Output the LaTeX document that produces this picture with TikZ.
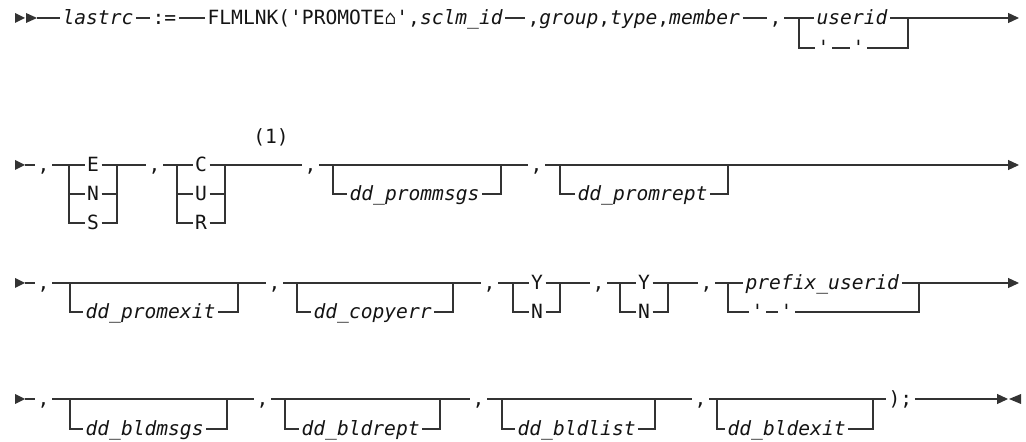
\documentclass[tikz,border=0pt]{standalone}
\usepackage{fontspec}
\setmonofont{DejaVu Sans Mono}
\usetikzlibrary{arrows.meta}
\definecolor{RailInk}{gray}{0.2}
\definecolor{RailText}{gray}{0.08}
\tikzset{
    rail/diagram/.style={
        x=0.5pt, y=-0.5pt,
        font=\ttfamily\fontsize{9.8}{11}\selectfont,
        draw=RailInk,
        text=RailText,
        line width=0.6pt,
        line cap=butt,
        line join=miter
    },
    rail/term/.style={
        anchor=west, inner xsep=1pt, inner ysep=0pt,
        text height=7pt, text depth=0pt
    },
    rail/choice/.style={
        anchor=center, inner xsep=1pt, inner ysep=0pt,
        text height=7pt, text depth=0pt
    },
    rail/line/.style={draw=RailInk, line width=0.6pt},
    rail/next/.style={
        draw=RailInk, line width=0.6pt,
        -{Triangle[length=5.5pt, width=5pt]}
    },
    rail/head/.style={fill=RailInk, draw=none}
}
\begin{document}
\begin{tikzpicture}[rail/diagram]
    \useasboundingbox (0,0) rectangle (1026,442);
    % row 1
    \fill[rail/head] (15,13) -- (25,18) -- (15,23) -- cycle;
    \fill[rail/head] (26,13) -- (37,18) -- (26,23) -- cycle;
    \coordinate (r1s) at (37,18);
    \node[rail/term] (lastrc) at (60,18) {\textit{lastrc}};
    \node[rail/term] (assign) at (150,18) {:=};
    \node[rail/term] (flmlnk) at (205,18) {FLMLNK('PROMOTE⌂',\textit{sclm\_id}};
    \node[rail/term] (args) at (525,18) {,\textit{group},\textit{type},\textit{member}};
    \node[rail/term] (c1a) at (767,18) {,};
    \coordinate (r1l) at (799,18);
    \coordinate (r1r) at (908,18);
    \node[rail/term] (userid) at (814,18) {\textit{userid}};
    \node[rail/term] (q1a) at (815,48) {'};
    \node[rail/term] (q1b) at (850,48) {'};
    \coordinate (r1e) at (1019,18);
    \draw[rail/next] (r1s) -- (lastrc) -- (assign) -- (flmlnk) -- (args) -- (c1a)
        -- (userid) -- (r1e);
    \draw[rail/line] (r1l) |- (q1a);
    \draw[rail/line] (q1a) -- (q1b);
    \draw[rail/line] (q1b) -| (r1r);
    % row 2
    \foreach \y in {165,283,399} {
        \fill[rail/head] (15,\y-5) -- (25,\y) -- (15,\y+5) -- cycle;
    }
    \coordinate (r2s) at (25,165);
    \node[rail/term] (c2a) at (35,165) {,};
    \coordinate (r2la) at (69,165);
    \coordinate (r2ra) at (117,165);
    \node[rail/choice] (E) at (93,165) {E};
    \node[rail/choice] (N) at (93,194) {N};
    \node[rail/choice] (S) at (93,223) {S};
    \node[rail/term] (c2b) at (146,165) {,};
    \coordinate (r2lb) at (177,165);
    \coordinate (r2rb) at (225,165);
    \node[rail/choice] (C) at (201,165) {C};
    \node[rail/choice] (U) at (201,194) {U};
    \node[rail/choice] (R) at (201,223) {R};
    \node (note) at (271,137) {(1)};
    \node[rail/term] (c2c) at (302,165) {,};
    \coordinate (r2lc) at (333,165);
    \coordinate (r2rc) at (501,165);
    \node[rail/term] (prommsgs) at (347,194) {\textit{dd\_prommsgs}};
    \node[rail/term] (c2d) at (528,165) {,};
    \coordinate (r2ld) at (560,165);
    \coordinate (r2rd) at (728,165);
    \node[rail/term] (promrept) at (575,194) {\textit{dd\_promrept}};
    \coordinate (r2e) at (1019,165);
    \draw[rail/next] (r2s) -- (c2a) -- (E) -- (c2b) -- (C) -- (c2c) -- (c2d) -- (r2e);
    \draw[rail/line] (r2la) |- (S) -| (r2ra);
    \draw[rail/line] (r2la |- N) -- (N) -- (r2ra |- N);
    \draw[rail/line] (r2lb) |- (R) -| (r2rb);
    \draw[rail/line] (r2lb |- U) -- (U) -- (r2rb |- U);
    \draw[rail/line] (r2lc) |- (prommsgs) -| (r2rc);
    \draw[rail/line] (r2ld) |- (promrept) -| (r2rd);
    % row 3
    \coordinate (r3s) at (25,283);
    \node[rail/term] (c3a) at (35,283) {,};
    \coordinate (r3la) at (70,283);
    \coordinate (r3ra) at (238,283);
    \node[rail/term] (promexit) at (83,312) {\textit{dd\_promexit}};
    \node[rail/term] (c3b) at (266,283) {,};
    \coordinate (r3lb) at (297,283);
    \coordinate (r3rb) at (453,283);
    \node[rail/term] (copyerr) at (311,312) {\textit{dd\_copyerr}};
    \node[rail/term] (c3c) at (481,283) {,};
    \coordinate (r3lc) at (513,283);
    \coordinate (r3rc) at (560,283);
    \node[rail/choice] (Ya) at (537,283) {Y};
    \node[rail/choice] (Na) at (537,312) {N};
    \node[rail/term] (c3d) at (590,283) {,};
    \coordinate (r3ld) at (620,283);
    \coordinate (r3rd) at (668,283);
    \node[rail/choice] (Yb) at (644,283) {Y};
    \node[rail/choice] (Nb) at (644,312) {N};
    \node[rail/term] (c3e) at (698,283) {,};
    \coordinate (r3le) at (728,283);
    \coordinate (r3re) at (919,283);
    \node[rail/term] (prefix) at (743,283) {\textit{prefix\_userid}};
    \node[rail/term] (q3a) at (749,312) {'};
    \node[rail/term] (q3b) at (778,312) {'};
    \coordinate (r3e) at (1019,283);
    \draw[rail/next] (r3s) -- (c3a) -- (c3b) -- (c3c) -- (Ya) -- (c3d) -- (Yb) -- (c3e)
        -- (prefix) -- (r3e);
    \draw[rail/line] (r3la) |- (promexit) -| (r3ra);
    \draw[rail/line] (r3lb) |- (copyerr) -| (r3rb);
    \draw[rail/line] (r3lc) |- (Na) -| (r3rc);
    \draw[rail/line] (r3ld) |- (Nb) -| (r3rd);
    \draw[rail/line] (r3le) |- (q3a);
    \draw[rail/line] (q3a) -- (q3b);
    \draw[rail/line] (q3b) -| (r3re);
    % row 4
    \coordinate (r4s) at (25,399);
    \node[rail/term] (c4a) at (35,399) {,};
    \coordinate (r4la) at (70,399);
    \coordinate (r4ra) at (227,399);
    \node[rail/term] (bldmsgs) at (83,429) {\textit{dd\_bldmsgs}};
    \node[rail/term] (c4b) at (254,399) {,};
    \coordinate (r4lb) at (285,399);
    \coordinate (r4rb) at (440,399);
    \node[rail/term] (bldrept) at (299,429) {\textit{dd\_bldrept}};
    \node[rail/term] (c4c) at (470,399) {,};
    \coordinate (r4lc) at (502,399);
    \coordinate (r4rc) at (655,399);
    \node[rail/term] (bldlist) at (515,429) {\textit{dd\_bldlist}};
    \node[rail/term] (c4d) at (692,399) {,};
    \coordinate (r4ld) at (717,399);
    \coordinate (r4rd) at (873,399);
    \node[rail/term] (bldexit) at (725,429) {\textit{dd\_bldexit}};
    \node[rail/term] (close) at (886,399) {);};
    \coordinate (r4e) at (1008,399);
    \draw[rail/next] (r4s) -- (c4a) -- (c4b) -- (c4c) -- (c4d) -- (close) -- (r4e);
    \fill[rail/head] (1021,394) -- (1009,399) -- (1021,404) -- cycle;
    \draw[rail/line] (r4la) |- (bldmsgs) -| (r4ra);
    \draw[rail/line] (r4lb) |- (bldrept) -| (r4rb);
    \draw[rail/line] (r4lc) |- (bldlist) -| (r4rc);
    \draw[rail/line] (r4ld) |- (bldexit) -| (r4rd);
\end{tikzpicture}
\end{document}
